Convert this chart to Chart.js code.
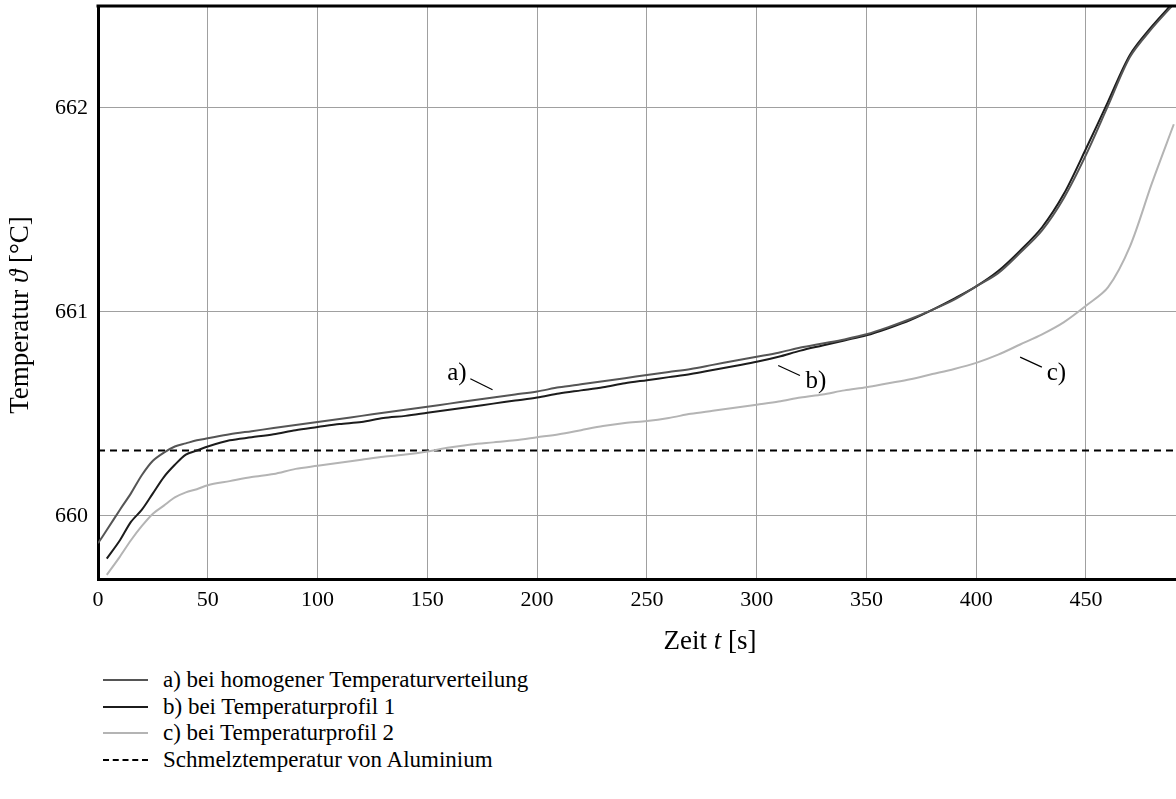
<!DOCTYPE html>
<html>
<head>
<meta charset="utf-8">
<script src="https://cdn.jsdelivr.net/npm/chart.js@4.4.1/dist/chart.umd.min.js"></script>
<style>
  body { margin: 0; background: #fff; font-family: "Liberation Serif", serif; }
  #wrap { position: relative; width: 1176px; height: 799px; overflow: hidden; }
  #chart { position: absolute; left: 0; top: 0; }
  #legend { position: absolute; left: 103px; top: 667px; font-size: 23px; color: #000; }
  .row { height: 26.5px; line-height: 26.5px; display: flex; align-items: center; }
  .sample { width: 45px; height: 0; margin-right: 15px; }
</style>
</head>
<body>
<div id="wrap">
  <canvas id="chart" width="1176" height="665"></canvas>
  <div id="legend"></div>
</div>
<script>
// Zeit t [s]
const times = [0, 4, 10, 15, 20, 25, 30, 35, 40, 45, 50, 60, 70, 80, 90, 100, 110, 120, 130, 140,
  150, 160, 170, 180, 190, 200, 210, 220, 230, 240, 250, 260, 270, 280, 290, 300, 310, 320, 330,
  340, 350, 360, 370, 380, 390, 400, 410, 420, 430, 440, 450, 460, 470, 480, 490];

// a) homogene Temperaturverteilung
const seriesA = [659.865, 659.93, 660.03, 660.11, 660.20, 660.27, 660.31, 660.34, 660.355, 660.37,
  660.38, 660.40, 660.415, 660.43, 660.445, 660.46, 660.475, 660.49, 660.505, 660.52,
  660.535, 660.55, 660.565, 660.58, 660.595, 660.61, 660.63, 660.645, 660.66, 660.675,
  660.69, 660.705, 660.72, 660.74, 660.76, 660.78, 660.80, 660.825, 660.845, 660.865,
  660.89, 660.925, 660.965, 661.01, 661.06, 661.125, 661.19, 661.29, 661.40, 661.56,
  661.77, 662.01, 662.25, 662.39, 662.51];

// b) Temperaturprofil 1
const seriesB = [null, 659.79, 659.88, 659.97, 660.03, 660.11, 660.19, 660.25, 660.30, 660.32,
  660.34, 660.37, 660.385, 660.40, 660.42, 660.435, 660.45, 660.46, 660.48, 660.49,
  660.505, 660.52, 660.535, 660.55, 660.565, 660.58, 660.60, 660.615, 660.63, 660.65,
  660.665, 660.68, 660.695, 660.715, 660.735, 660.755, 660.78, 660.81, 660.835, 660.86,
  660.885, 660.92, 660.96, 661.01, 661.065, 661.125, 661.20, 661.30, 661.415, 661.58,
  661.80, 662.03, 662.26, 662.40, 662.52];

// c) Temperaturprofil 2
const seriesC = [null, 659.71, 659.80, 659.88, 659.95, 660.01, 660.05, 660.09, 660.115, 660.13,
  660.15, 660.17, 660.19, 660.205, 660.23, 660.245, 660.26, 660.275, 660.29, 660.30,
  660.315, 660.335, 660.35, 660.36, 660.37, 660.385, 660.40, 660.42, 660.44, 660.455,
  660.465, 660.48, 660.50, 660.515, 660.53, 660.545, 660.56, 660.58, 660.595, 660.615,
  660.63, 660.65, 660.67, 660.695, 660.72, 660.75, 660.79, 660.84, 660.89, 660.95,
  661.03, 661.12, 661.32, 661.63, 661.92];

// Schmelztemperatur Aluminium
const meltTemp = 660.32;

const xTicks = [0, 50, 100, 150, 200, 250, 300, 350, 400, 450];
const yTicks = [660, 661, 662];

const legendNames = [
  'a) bei homogener Temperaturverteilung',
  'b) bei Temperaturprofil 1',
  'c) bei Temperaturprofil 2',
  'Schmelztemperatur von Aluminium'
];

const xMin = 0, xMax = 491;
const yMin = 659.69, yMax = 662.5;

const colA = '#555555', colB = '#1c1c1c', colC = '#b4b4b4', colMelt = '#000000';

function pts(vals) {
  return times.map((t, i) => ({ x: t, y: vals[i] })).filter(p => p.y !== null);
}

// curve labels with their short leader lines (data coordinates)
const curveLabels = [
  { text: 'a)', tx: 163.5, ty: 660.70, l: [169.6, 660.672, 179.7, 660.618] },
  { text: 'b)', tx: 327, ty: 660.66, l: [309.8, 660.737, 319.7, 660.688] },
  { text: 'c)', tx: 436.5, ty: 660.70, l: [420, 660.778, 429.9, 660.729] }
];

const extras = {
  id: 'extras',
  afterDraw(chart) {
    const ctx = chart.ctx;
    const a = chart.chartArea;
    const xs = chart.scales.x, ys = chart.scales.y;
    ctx.save();
    // top frame line
    ctx.strokeStyle = '#000';
    ctx.lineWidth = 3;
    ctx.beginPath();
    ctx.moveTo(a.left - 1.5, a.top);
    ctx.lineTo(a.right, a.top);
    ctx.stroke();

    // curve labels
    ctx.fillStyle = '#000';
    ctx.lineWidth = 1.2;
    ctx.font = '25px "Liberation Serif"';
    ctx.textAlign = 'center';
    ctx.textBaseline = 'middle';
    curveLabels.forEach(c => {
      ctx.fillText(c.text, xs.getPixelForValue(c.tx), ys.getPixelForValue(c.ty));
      ctx.beginPath();
      ctx.moveTo(xs.getPixelForValue(c.l[0]), ys.getPixelForValue(c.l[1]));
      ctx.lineTo(xs.getPixelForValue(c.l[2]), ys.getPixelForValue(c.l[3]));
      ctx.stroke();
    });

    // axis titles with italic symbols
    const drawMixed = (parts, cx, cy) => {
      let w = 0;
      parts.forEach(p => { ctx.font = p[1] + ' 27px "Liberation Serif"'; w += ctx.measureText(p[0]).width; });
      let x = cx - w / 2;
      ctx.textAlign = 'left';
      ctx.textBaseline = 'middle';
      parts.forEach(p => {
        ctx.font = p[1] + ' 27px "Liberation Serif"';
        ctx.fillText(p[0], x, cy);
        x += ctx.measureText(p[0]).width;
      });
    };
    drawMixed([['Zeit ', 'normal'], ['t', 'italic'], [' [s]', 'normal']], 710, 642);
    ctx.translate(21, 315);
    ctx.rotate(-Math.PI / 2);
    drawMixed([['Temperatur ', 'normal'], ['\u03D1', 'italic'], [' [°C]', 'normal']], 0, 0);
    ctx.restore();
  }
};

window.onload = function() {
  const ctx = document.getElementById('chart').getContext('2d');
  new Chart(ctx, {
    type: 'line',
    data: {
      datasets: [
        { label: legendNames[0], data: pts(seriesA), borderColor: colA, borderWidth: 2, pointRadius: 0, tension: 0.3 },
        { label: legendNames[1], data: pts(seriesB), borderColor: colB, borderWidth: 2, pointRadius: 0, tension: 0.3 },
        { label: legendNames[2], data: pts(seriesC), borderColor: colC, borderWidth: 2, pointRadius: 0, tension: 0.3 },
        { label: legendNames[3], data: [{ x: xMin, y: meltTemp }, { x: xMax, y: meltTemp }],
          borderColor: colMelt, borderWidth: 2, borderDash: [7, 5], pointRadius: 0 }
      ]
    },
    options: {
      responsive: false,
      animation: false,
      events: [],
      layout: { padding: { top: 6, left: 0, right: 0, bottom: 0 } },
      plugins: { legend: { display: false }, tooltip: { enabled: false } },
      scales: {
        x: {
          type: 'linear',
          min: xMin,
          max: xMax,
          afterBuildTicks: s => { s.ticks = xTicks.map(v => ({ value: v })); },
          afterFit: s => { s.height = 86; s.paddingLeft = 0; s.paddingRight = 0; },
          grid: { color: '#a0a0a0', lineWidth: 1, drawTicks: false },
          border: { color: '#000', width: 3 },
          ticks: { color: '#000', padding: 8, maxRotation: 0, font: { family: 'Liberation Serif', size: 22 } }
        },
        y: {
          min: yMin,
          max: yMax,
          afterBuildTicks: s => { s.ticks = yTicks.map(v => ({ value: v })); },
          afterFit: s => { s.width = 98; s.paddingTop = 0; s.paddingBottom = 0; },
          grid: { color: '#a0a0a0', lineWidth: 1, drawTicks: false },
          border: { color: '#000', width: 3 },
          ticks: { color: '#000', padding: 10, font: { family: 'Liberation Serif', size: 22 } }
        }
      }
    },
    plugins: [extras]
  });

  // legend below the plot
  const legend = document.getElementById('legend');
  const styles = [
    '2px solid ' + colA,
    '2px solid ' + colB,
    '2px solid ' + colC,
    '2px dashed ' + colMelt
  ];
  legendNames.forEach((name, i) => {
    const row = document.createElement('div');
    row.className = 'row';
    const s = document.createElement('span');
    s.className = 'sample';
    s.style.borderTop = styles[i];
    const t = document.createElement('span');
    t.textContent = name;
    row.appendChild(s);
    row.appendChild(t);
    legend.appendChild(row);
  });
};
</script>
</body>
</html>
